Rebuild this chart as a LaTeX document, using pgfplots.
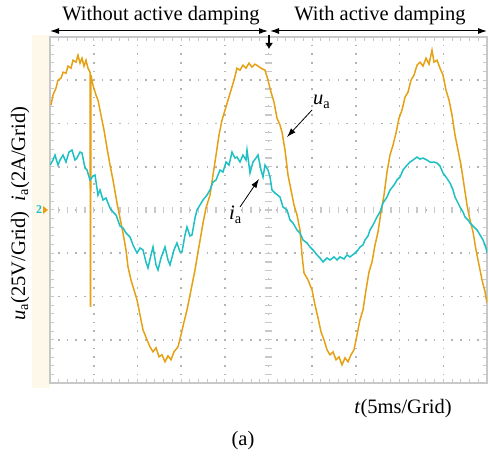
\documentclass[border=0pt]{standalone}
\usepackage{fontspec}
\setmainfont{Liberation Serif}
\usepackage{pgfplots}
\pgfplotsset{compat=1.18}
\usepackage{pgfplotstable}
\usetikzlibrary{arrows.meta}

\definecolor{uacol}{RGB}{230,160,20}
\definecolor{iacol}{RGB}{30,192,196}
\definecolor{cream}{RGB}{253,248,234}
\definecolor{framecol}{RGB}{200,200,200}
\definecolor{dotcol}{RGB}{180,180,180}

% t in ms, value in grid divisions (u_a: 25 V/div, i_a: 2 A/div)
\pgfplotstableread{
t d
0.114 2.425
0.343 2.656
0.687 2.818
0.915 3.002
1.259 3.049
1.487 3.187
1.831 3.164
2.060 3.326
2.403 3.279
2.632 3.464
2.975 3.418
3.204 3.580
3.433 3.395
3.661 3.510
3.890 3.326
4.119 3.464
4.348 3.279
4.577 3.187
4.634 -2.240
4.691 3.118
4.920 2.887
5.263 2.656
5.492 2.540
5.835 2.194
6.179 1.848
6.522 1.432
6.865 1.039
7.208 0.693
7.666 0.162
8.009 -0.185
8.353 -0.531
8.696 -0.924
8.925 -1.316
9.268 -1.617
9.611 -1.848
9.955 -2.079
10.298 -2.425
10.641 -2.771
11.099 -3.002
11.442 -3.164
11.785 -3.279
12.129 -3.187
12.472 -3.395
12.815 -3.349
13.158 -3.510
13.502 -3.372
13.845 -3.464
14.188 -3.279
14.646 -3.164
14.989 -2.887
15.332 -2.587
15.676 -2.310
16.019 -1.963
16.362 -1.617
16.591 -1.386
16.934 -0.970
17.277 -0.577
17.506 -0.300
17.850 0.046
18.307 0.346
18.650 0.808
18.994 1.270
19.337 1.732
19.680 2.079
20.024 2.310
20.367 2.540
20.710 2.771
21.053 3.002
21.397 3.279
21.740 3.233
22.083 3.349
22.426 3.279
22.770 3.395
23.113 3.303
23.456 3.372
23.799 3.326
24.143 3.279
24.600 3.233
24.944 3.002
25.287 2.725
25.630 2.494
25.973 2.125
26.317 1.963
26.545 1.801
26.889 1.386
27.232 0.808
27.575 0.462
27.918 0.115
28.262 -0.115
28.605 -0.462
28.834 -1.039
29.063 -1.455
29.520 -1.617
29.978 -1.848
30.321 -2.194
30.665 -2.494
31.008 -2.818
31.351 -3.002
31.694 -3.233
32.038 -3.349
32.381 -3.279
32.724 -3.464
33.067 -3.395
33.411 -3.580
33.754 -3.418
34.097 -3.510
34.440 -3.349
34.784 -3.233
35.127 -2.887
35.470 -2.540
35.813 -2.310
36.157 -1.848
36.500 -1.432
36.843 -1.201
37.187 -0.808
37.530 -0.508
37.873 -0.046
38.216 0.346
38.560 0.878
38.903 1.270
39.246 1.501
39.589 1.778
39.933 2.125
40.276 2.310
40.619 2.610
40.962 2.725
41.306 3.002
41.649 3.118
41.992 3.349
42.335 3.418
42.679 3.326
43.022 3.510
43.365 3.372
43.708 3.695
43.937 3.418
44.281 3.464
44.624 3.279
44.967 3.118
45.310 2.771
45.654 2.540
45.997 2.194
46.340 1.732
46.683 1.386
47.027 1.039
47.370 0.577
47.713 0.115
48.056 -0.231
48.400 -0.508
48.743 -0.924
49.086 -1.270
49.429 -1.617
49.773 -1.894
50.000 -2.148
}\uatable

\pgfplotstableread{
t d
0.000 1.039
0.343 1.155
0.572 1.270
0.915 1.039
1.144 1.155
1.487 1.270
1.831 1.109
2.174 1.340
2.517 1.386
2.861 1.155
3.089 1.201
3.433 1.340
3.661 1.316
4.005 0.970
4.234 0.924
4.577 0.693
4.920 0.785
5.149 0.808
5.492 0.346
5.721 0.462
6.064 0.231
6.408 0.277
6.865 0.046
7.208 -0.046
7.552 -0.115
8.009 -0.370
8.353 -0.416
8.696 -0.531
9.154 -0.624
9.497 -0.808
9.955 -0.993
10.298 -0.878
10.641 -0.924
10.984 -1.201
11.213 -1.340
11.556 -1.039
11.785 -0.855
12.129 -1.270
12.357 -1.386
12.701 -1.109
13.158 -0.855
13.502 -1.155
13.730 -1.270
14.188 -0.924
14.531 -0.762
14.875 -0.970
15.103 -0.970
15.447 -0.577
15.676 -0.393
16.019 -0.600
16.248 -0.577
16.591 -0.185
16.820 0.000
17.163 0.115
17.506 0.231
17.964 0.346
18.307 0.462
18.650 0.647
18.994 0.693
19.451 0.924
19.795 0.878
20.138 1.109
20.481 1.039
20.825 1.340
21.168 1.201
21.397 1.224
21.740 1.109
22.083 1.270
22.426 1.155
22.541 1.386
22.884 0.855
23.227 1.109
23.571 1.201
23.799 1.270
24.143 0.924
24.371 0.762
24.600 1.039
24.944 0.924
25.172 0.762
25.401 0.462
25.745 0.393
26.317 0.300
26.660 0.069
27.118 0.000
27.461 -0.231
27.804 -0.300
28.262 -0.462
28.605 -0.531
28.948 -0.693
29.406 -0.762
29.749 -0.855
30.092 -0.924
30.550 -1.039
30.893 -1.109
31.237 -1.201
31.694 -1.109
32.038 -1.155
32.495 -1.085
32.839 -1.155
33.182 -1.085
33.640 -1.132
33.983 -1.039
34.326 -1.085
34.898 -0.993
35.241 -0.924
35.470 -0.855
35.813 -0.808
36.042 -0.693
36.386 -0.600
36.614 -0.462
36.958 -0.346
37.415 -0.162
37.759 -0.046
38.102 0.162
38.560 0.300
38.903 0.462
39.360 0.577
39.704 0.693
40.047 0.762
40.390 0.924
40.848 1.039
41.191 1.109
41.534 1.155
41.992 1.224
42.335 1.178
42.679 1.201
43.136 1.155
43.480 1.109
43.937 1.109
44.281 1.085
44.624 1.016
44.967 0.855
45.310 0.762
45.768 0.624
46.111 0.462
46.340 0.300
46.683 0.162
46.912 0.069
47.255 -0.046
47.484 -0.162
47.828 -0.231
48.056 -0.300
48.514 -0.393
48.857 -0.462
49.200 -0.577
49.543 -0.693
49.886 -0.878
50.000 -0.993
}\iatable

\begin{document}
\begin{tikzpicture}[x=1pt,y=1pt,font=\fontsize{20.5}{24}\selectfont]
\path[use as bounding box] (0,0) rectangle (489,455);
\fill[cream] (32,67) rectangle (50,420);
\begin{axis}[
  at={(50pt,72pt)}, anchor=south west,
  x=8.74pt, y=43.25pt,
  xmin=0, xmax=50, ymin=-4, ymax=4,
  xtick={0,5,...,50}, ytick={-4,-3,...,4},
  minor x tick num=4, minor y tick num=4,
  xticklabels={}, yticklabels={},
  tick align=inside,
  major tick length=4pt, minor tick length=4pt,
  every tick/.style={framecol, line width=1pt},
  axis line style={framecol, line width=2pt},
  grid=major,
  major x grid style={dotcol, line width=1.6pt, dash pattern=on 1.6pt off 7.05pt, dash phase=0.8pt},
  major y grid style={dotcol, line width=1.6pt, dash pattern=on 1.6pt off 7.14pt, dash phase=0.8pt},
]
\pgfplotsinvokeforeach{0,1,...,50}{
  \draw[framecol, line width=1.3pt] (axis cs:#1,-0.07) -- (axis cs:#1,0.07);
}
\pgfplotsinvokeforeach{-4,-3.8,...,4}{
  \draw[framecol, line width=1.3pt] (axis cs:24.6,#1) -- (axis cs:25.4,#1);
}
\addplot[uacol, line width=1.5pt] table[x=t, y=d] {\uatable};
\addplot[iacol, line width=1.5pt] table[x=t, y=d] {\iatable};
\end{axis}

% headers
\node[anchor=base] at (161,434) {Without active damping};
\node[anchor=base] at (380,434) {With active damping};
\draw[line width=1pt, {Latex[length=9pt,width=6pt]}-{Latex[length=9pt,width=6pt]}] (50,424) -- (268,424);
\draw[line width=1pt, {Latex[length=9pt,width=6pt]}-{Latex[length=9pt,width=6pt]}] (270,424) -- (487,424);
\draw[line width=1.8pt, -{Latex[length=6pt,width=8pt]}] (269,420) -- (269,406);

% axis captions
\node[anchor=base, rotate=90] at (25,301) {\textit{i}\textsubscript{a}(2A/Grid)};
\node[anchor=base, rotate=90] at (25,189) {\textit{u}\textsubscript{a}(25V/Grid)};
\node[anchor=base] at (403,42) {\textit{t}(5ms/Grid)};
\node[anchor=base] at (243,10) {(a)};

% trace annotations
\node[anchor=base west, inner sep=0pt] at (313,350) {\textit{u}\textsubscript{a}};
\draw[line width=0.8pt, -{Latex[length=9pt,width=6pt]}] (312,345) -- (287,318);
\node[anchor=base west, inner sep=0pt] at (229,235) {\textit{i}\textsubscript{a}};
\draw[line width=0.8pt, -{Latex[length=9pt,width=6pt]}] (240,248) -- (259,276);

% channel marker
\node[text=iacol, font=\fontsize{12}{12}\selectfont\bfseries, inner sep=0pt] at (39,245) {2};
\fill[uacol] (43,241) -- (48,245) -- (43,249) -- cycle;
\end{tikzpicture}
\end{document}
